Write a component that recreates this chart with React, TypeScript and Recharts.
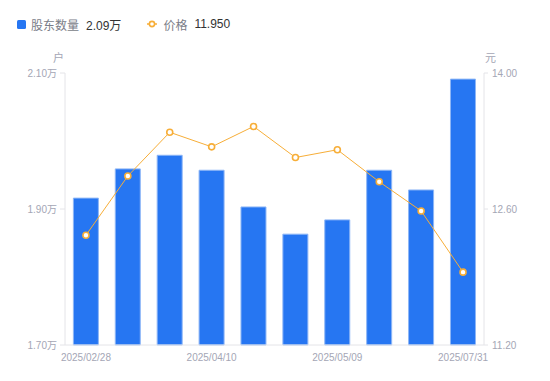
import React from 'react';
import { ComposedChart, Bar, Line, XAxis, YAxis } from 'recharts';

// dates of each report
const dates = [
  '2025/02/28', '2025/03/14', '2025/03/31', '2025/04/10', '2025/04/18',
  '2025/04/30', '2025/05/09', '2025/06/20', '2025/06/30', '2025/07/31',
];
// shareholder count (户)
const holders = [19160, 19590, 19790, 19570, 19030, 18630, 18840, 19570, 19280, 20910];
// price (元)
const prices = [12.33, 12.94, 13.39, 13.24, 13.45, 13.13, 13.21, 12.88, 12.58, 11.95];

const leftTicks = [17000, 19000, 21000];
const rightTicks = [11.2, 12.6, 14.0];

const data = dates.map((d, i) => ({ date: d, holders: holders[i], price: prices[i] }));

const FONT = '"Liberation Sans", Arial, "Noto Sans CJK SC", sans-serif';
const BLUE = '#2676f2';
const ORANGE = '#f7ae38';
const AXIS_TEXT = '#a4a6b5';

export default function App() {
  return (
    <div style={{ position: 'absolute', left: 0, top: 0, width: 550, height: 381, background: '#fff', fontFamily: FONT }}>
      {/* Legend */}
      <div style={{ position: 'absolute', left: 17, top: 16, height: 16, display: 'flex', alignItems: 'center', fontSize: 12 }}>
        <span style={{ width: 9, height: 9, background: BLUE, borderRadius: 1.5, display: 'inline-block' }} />
        <span style={{ color: '#7a7d88', marginLeft: 5 }}>股东数量</span>
        <span style={{ color: '#333', marginLeft: 7 }}>2.09万</span>
        <svg width={10} height={10} style={{ marginLeft: 26 }}>
          <line x1={0} y1={5} x2={10} y2={5} stroke={ORANGE} strokeWidth={1.5} />
          <circle cx={5} cy={5} r={2.6} fill="#fff" stroke={ORANGE} strokeWidth={1.6} />
        </svg>
        <span style={{ color: '#7a7d88', marginLeft: 6 }}>价格</span>
        <span style={{ color: '#333', marginLeft: 7 }}>11.950</span>
      </div>
      {/* axis units */}
      <div style={{ position: 'absolute', left: 53, top: 49, fontSize: 11, color: AXIS_TEXT }}>户</div>
      <div style={{ position: 'absolute', left: 485, top: 49, fontSize: 11, color: AXIS_TEXT }}>元</div>

      <ComposedChart
        width={550}
        height={381}
        data={data}
        margin={{ top: 73, right: 0, bottom: 0, left: 0 }}
        barCategoryGap="20%"
        style={{ position: 'absolute', left: 0, top: 0 }}
      >
        <XAxis
          dataKey="date"
          interval={2}
          height={36}
          tickLine={false}
          tickSize={0}
          tickMargin={9}
          axisLine={{ stroke: '#e4e4e8' }}
          tick={{ fontSize: 10, fill: AXIS_TEXT, fontFamily: FONT }}
        />
        <YAxis
          yAxisId="left"
          orientation="left"
          width={65}
          domain={[17000, 21000]}
          ticks={leftTicks}
          tickFormatter={(v: number) => (v / 10000).toFixed(2) + '万'}
          tickSize={5}
          tickMargin={3}
          axisLine={{ stroke: '#e4e4e8' }}
          tickLine={{ stroke: '#e4e4e8' }}
          tick={{ fontSize: 10, fill: AXIS_TEXT, fontFamily: FONT }}
        />
        <YAxis
          yAxisId="right"
          orientation="right"
          width={66}
          domain={[11.2, 14]}
          ticks={rightTicks}
          tickFormatter={(v: number) => v.toFixed(2)}
          tickSize={4}
          tickMargin={4}
          axisLine={{ stroke: '#e4e4e8' }}
          tickLine={{ stroke: '#e4e4e8' }}
          tick={{ fontSize: 10, fill: AXIS_TEXT, fontFamily: FONT }}
        />
        <Bar
          yAxisId="left"
          dataKey="holders"
          fill={BLUE}
          stroke="#8db6f6"
          strokeWidth={1}
          isAnimationActive={false}
        />
        <Line
          yAxisId="right"
          dataKey="price"
          type="linear"
          stroke={ORANGE}
          strokeWidth={1}
          dot={{ r: 3, fill: '#fff', stroke: ORANGE, strokeWidth: 1.6 }}
          isAnimationActive={false}
        />
      </ComposedChart>
    </div>
  );
}
